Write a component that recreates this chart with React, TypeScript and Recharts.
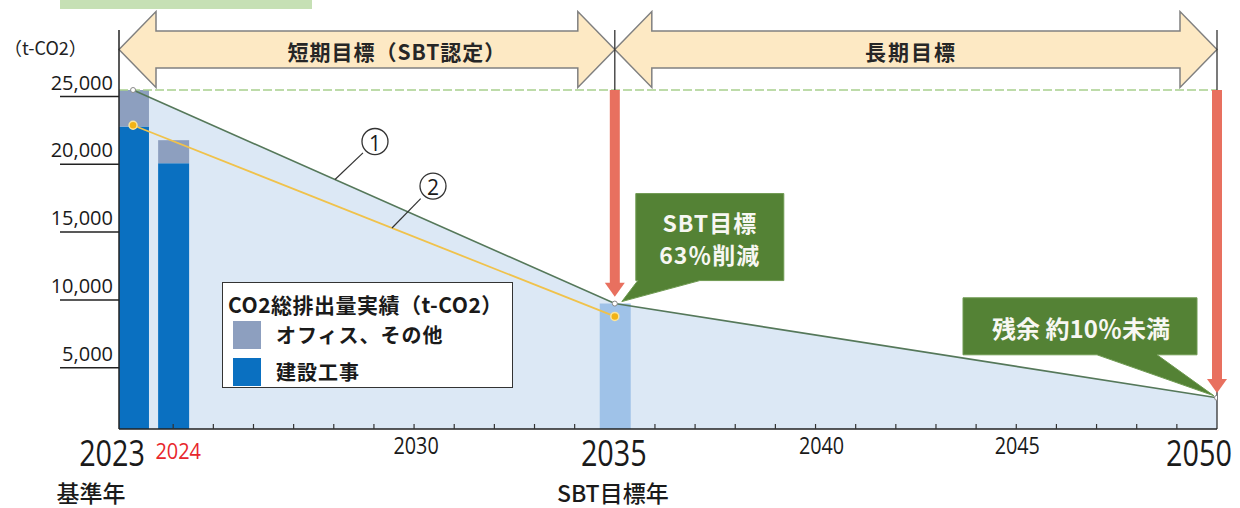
import React from 'react';
import {
  ComposedChart,
  Area,
  Bar,
  Line,
  XAxis,
  YAxis,
  ReferenceLine,
  ReferenceArea,
  ReferenceDot,
  Legend,
} from 'recharts';

// ---------- data ----------
const years = [2023, 2024, 2035, 2050];
const officeOther = [2700, 1700, null, null];
const construction = [22300, 19600, null, null];
const sbtTargetBar = [null, null, 9250, null];
const path1 = [25000, null, 9250, 2300];
const path2 = [22400, null, 8300, null];

const yTicks = [5000, 10000, 15000, 20000, 25000];
const xTicks = [
  2023, 2024, 2025, 2026, 2027, 2028, 2029, 2030, 2031, 2032, 2033, 2034, 2035, 2036,
  2037, 2038, 2039, 2040, 2041, 2042, 2043, 2044, 2045, 2046, 2047, 2048, 2049, 2050,
];
const xTickLabels: Record<number, string> = {
  2023: '2023',
  2024: '2024',
  2030: '2030',
  2035: '2035',
  2040: '2040',
  2045: '2045',
  2050: '2050',
};
const xSubLabels: Record<number, string> = { 2023: '基準年', 2035: 'SBT目標年' };

const legendTitle = 'CO2総排出量実績（t-CO2）';
const shortTermText = '短期目標（SBT認定）';
const longTermText = '長期目標';
const sbtCallout = ['SBT目標', '63％削減'];
const residualCallout = '残余 約10％未満';
const unitLabel = '（t-CO2）';

const data = years.map((year, i) => ({
  year,
  construction: construction[i],
  office: officeOther[i],
  target: sbtTargetBar[i],
  path1: path1[i],
  path2: path2[i],
}));

// ---------- layout constants ----------
const X_MIN = 2022.65;
const X_MAX = 2050;
const Y_MAX = 29425;
const BAND_LOW = 26620;
const BAND_HIGH = 29350;

const JP = '"Noto Sans CJK JP", "Noto Sans", sans-serif';
const LAT = '"Open Sans", "Noto Sans", sans-serif';

// ---------- custom pieces ----------
const YTick = (props: any) => {
  const { x, y, payload } = props;
  return (
    <g>
      <text
        x={x - 6}
        y={y - 8}
        textAnchor="end"
        dominantBaseline="central"
        fontFamily={LAT}
        fontSize={20}
        fill="#1a1a1a"
      >
        {payload.value.toLocaleString('en-US')}
      </text>
      <line x1={60} x2={x} y1={y + 6.5} y2={y + 6.5} stroke="#222" strokeWidth={1.5} />
    </g>
  );
};

const XTick = (props: any) => {
  const { x, y, payload } = props;
  const v = payload.value as number;
  const label = xTickLabels[v];
  const sub = xSubLabels[v];
  const big = v === 2023 || v === 2035 || v === 2050;
  const red = v === 2024;
  const dxMap: Record<number, number> = { 2023: -21, 2024: 5, 2030: 2, 2035: -1, 2040: 6, 2045: 1, 2050: -18 };
  const subDx: Record<number, number> = { 2023: -42, 2035: -2 };
  const showTick = !(v === 2023 || v === 2035 || v === 2050);
  const baseline = big ? y + 37 : red ? y + 30 : y + 25;
  const fs = big ? 36 : red ? 21 : 23;
  const sx = big ? 0.8 : red ? 0.95 : 0.86;
  return (
    <g>
      {showTick && <line x1={x} x2={x} y1={y} y2={y - 5} stroke="#333" strokeWidth={1.2} />}
      {label && (
        <g transform={`translate(${x + (dxMap[v] || 0)},${baseline}) scale(${sx},1)`}>
          <text x={0} y={0} textAnchor="middle" fontFamily={LAT} fontSize={fs} fill={red ? '#e8262c' : '#1a1a1a'}>
            {label}
          </text>
        </g>
      )}
      {sub && (
        <text
          x={x + (subDx[v] || 0)}
          y={y + 73}
          textAnchor="middle"
          fontFamily={JP}
          fontSize={23}
          fontWeight={500}
          fill="#1a1a1a"
        >
          {sub}
        </text>
      )}
    </g>
  );
};

const doubleArrow = (text: string, textDx: number, spacing: number) => (props: any) => {
  const { x, y, width, height } = props;
  const mid = y + height / 2;
  const headLen = 37;
  const headHalf = 38;
  const x0 = x;
  const x1 = x + width;
  const pts = [
    [x0, mid],
    [x0 + headLen, mid - headHalf],
    [x0 + headLen, y],
    [x1 - headLen, y],
    [x1 - headLen, mid - headHalf],
    [x1, mid],
    [x1 - headLen, mid + headHalf],
    [x1 - headLen, y + height],
    [x0 + headLen, y + height],
    [x0 + headLen, mid + headHalf],
  ]
    .map((p) => p.join(','))
    .join(' ');
  return (
    <g>
      <polygon points={pts} fill="#fde9c4" stroke="#808080" strokeWidth={1.5} />
      <text
        x={x + width / 2 + textDx}
        y={mid + 1}
        textAnchor="middle"
        dominantBaseline="central"
        fontFamily={JP}
        fontWeight={700}
        fontSize={21}
        letterSpacing={spacing}
        fill="#262626"
      >
        {text}
      </text>
    </g>
  );
};

const arrowHead = (props: any) => {
  const { cx, cy } = props;
  return <polygon points={`${cx - 10},${cy - 14} ${cx + 10},${cy - 14} ${cx},${cy}`} fill="#e8705f" />;
};

const circleLabel = (text: string, dx: number, dy: number) => (props: any) => {
  const { cx, cy } = props;
  const lx = cx + dx;
  const ly = cy + dy;
  return (
    <g>
      <line x1={cx} y1={cy} x2={lx - dx * 0.3} y2={ly - dy * 0.3} stroke="#333" strokeWidth={1.2} />
      <circle cx={lx} cy={ly} r={13} fill="#fff" stroke="#333" strokeWidth={1.3} />
      <text
        x={lx}
        y={ly + 1}
        textAnchor="middle"
        dominantBaseline="central"
        fontFamily={LAT}
        fontSize={21}
        fill="#1a1a1a"
      >
        {text}
      </text>
    </g>
  );
};

const sbtCalloutShape = (props: any) => {
  const { cx, cy } = props;
  const bx0 = cx + 21;
  const bx1 = cx + 169;
  const by0 = cy - 110;
  const by1 = cy - 23;
  const d = `M${bx0},${by0} L${bx1},${by0} L${bx1},${by1} L${cx + 85},${by1} L${cx + 7},${cy - 2} L${cx + 23},${by1} L${bx0},${by1} Z`;
  return (
    <g>
      <path d={d} fill="#548235" stroke="#6f9a52" strokeWidth={1} />
      <text
        x={cx + 95}
        y={cy - 82}
        textAnchor="middle"
        dominantBaseline="central"
        fontFamily={JP}
        fontWeight={700}
        fontSize={23}
        letterSpacing={1}
        fill="#f7f7f2"
      >
        {sbtCallout[0]}
      </text>
      <text
        x={cx + 95}
        y={cy - 50}
        textAnchor="middle"
        dominantBaseline="central"
        fontFamily={JP}
        fontWeight={700}
        fontSize={23}
        letterSpacing={1}
        fill="#f7f7f2"
      >
        {sbtCallout[1]}
      </text>
    </g>
  );
};

const residualCalloutShape = (props: any) => {
  const { cx, cy } = props;
  const bx0 = cx - 254;
  const bx1 = cx - 20;
  const by0 = cy - 100;
  const by1 = cy - 43;
  const d = `M${bx0},${by0} L${bx1},${by0} L${bx1},${by1} L${cx - 60},${by1} L${cx - 3},${cy - 2} L${cx - 120},${by1} L${bx0},${by1} Z`;
  return (
    <g>
      <path d={d} fill="#548235" stroke="#6f9a52" strokeWidth={1} />
      <text
        x={cx - 136}
        y={cy - 70}
        textAnchor="middle"
        dominantBaseline="central"
        fontFamily={JP}
        fontWeight={700}
        fontSize={24}
        fill="#f7f7f2"
      >
        {residualCallout}
      </text>
    </g>
  );
};

const LegendBox = (props: any) => {
  const payload = (props.payload || []) as any[];
  const order = ['office', 'construction'];
  const items = order
    .map((k) => payload.find((p) => p.dataKey === k))
    .filter(Boolean) as any[];
  return (
    <div
      style={{
        position: 'relative',
        width: 291,
        height: 106,
        boxSizing: 'border-box',
        border: '1.5px solid #333',
        background: '#fff',
        overflow: 'hidden',
        fontFamily: JP,
        color: '#1a1a1a',
      }}
    >
      <div
        style={{
          position: 'absolute',
          left: 5,
          top: 8,
          whiteSpace: 'nowrap',
          fontSize: 21,
          fontWeight: 700,
          lineHeight: '26px',
          letterSpacing: 0.5,
        }}
      >
        {legendTitle}
      </div>
      {items.map((it, i) => (
        <div key={it.dataKey} style={{ position: 'absolute', left: 10, top: 38 + i * 37, display: 'flex', alignItems: 'center' }}>
          <div style={{ width: 28, height: 28, background: it.color }} />
          <div style={{ marginLeft: 15, fontSize: 20, fontWeight: 700, lineHeight: '28px', whiteSpace: 'nowrap', letterSpacing: 1 }}>
            {it.value}
          </div>
        </div>
      ))}
    </div>
  );
};

export default function App() {
  return (
    <div style={{ position: 'absolute', left: 0, top: 0, width: 1240, height: 508, background: '#fff', overflow: 'hidden' }}>
      <div style={{ position: 'absolute', left: 60, top: 0, width: 252, height: 9, background: '#c6e0b5' }} />
      <ComposedChart width={1240} height={508} data={data} margin={{ top: 30, right: 23, bottom: 0, left: 0 }}>
        <XAxis
          dataKey="year"
          type="number"
          domain={[X_MIN, X_MAX]}
          ticks={xTicks}
          interval={0}
          tick={XTick}
          tickLine={false}
          tickSize={0}
          tickMargin={0}
          axisLine={{ stroke: '#222', strokeWidth: 1.5 }}
          height={79}
          allowDataOverflow
        />
        <YAxis
          type="number"
          domain={[0, Y_MAX]}
          ticks={yTicks}
          interval={0}
          tick={YTick}
          tickLine={false}
          tickSize={0}
          tickMargin={0}
          axisLine={{ stroke: '#222', strokeWidth: 1.5 }}
          width={119}
          allowDataOverflow
          label={{
            content: (p: any) => (
              <text x={4} y={(p.viewBox?.y ?? 30) + 25} fontFamily={JP} fontSize={18} fill="#222">
                {unitLabel}
              </text>
            ),
          }}
        />
        <Legend
          layout="horizontal"
          verticalAlign="middle"
          align="center"
          content={LegendBox}
          wrapperStyle={{ position: 'absolute', left: 222, top: 282, width: 291, height: 106 }}
        />

        <Area
          type="linear"
          dataKey="path1"
          stroke="none"
          fill="#dce8f5"
          fillOpacity={1}
          connectNulls
          isAnimationActive={false}
          legendType="none"
          dot={false}
          activeDot={false}
        />
        <Bar dataKey="construction" name="建設工事" stackId="s" fill="#0a70c1" barSize={31} isAnimationActive={false} />
        <Bar dataKey="office" name="オフィス、その他" stackId="s" fill="#8d9fbf" barSize={31} isAnimationActive={false} />
        <Bar dataKey="target" stackId="s" fill="#9fc2e8" barSize={31} isAnimationActive={false} legendType="none" />

        <ReferenceLine y={25000} stroke="#a8cf8d" strokeWidth={1.5} strokeDasharray="9 3" />
        <ReferenceLine x={2050} stroke="#333" strokeWidth={1.3} />
        <ReferenceLine segment={[{ x: 2035, y: 25000 }, { x: 2035, y: Y_MAX }]} stroke="#333" strokeWidth={1.3} />

        <Line
          type="linear"
          dataKey="path1"
          stroke="#55785a"
          strokeWidth={1.6}
          connectNulls
          isAnimationActive={false}
          legendType="none"
          dot={{ r: 2.5, fill: '#fff', stroke: '#888', strokeWidth: 1 }}
          activeDot={false}
        />
        <Line
          type="linear"
          dataKey="path2"
          stroke="#f0c24b"
          strokeWidth={1.8}
          connectNulls
          isAnimationActive={false}
          legendType="none"
          dot={{ r: 4, fill: '#f2b315', stroke: '#fbe49c', strokeWidth: 1.5 }}
          activeDot={false}
        />

        <ReferenceLine segment={[{ x: 2035, y: 25000 }, { x: 2035, y: 10700 }]} stroke="#e8705f" strokeWidth={10} />
        <ReferenceDot x={2035} y={9750} r={1} shape={arrowHead} />
        <ReferenceLine segment={[{ x: 2050, y: 25000 }, { x: 2050, y: 3600 }]} stroke="#e8705f" strokeWidth={10} />
        <ReferenceDot x={2050} y={2650} r={1} shape={arrowHead} />

        <ReferenceArea x1={X_MIN} x2={2035} y1={BAND_LOW} y2={BAND_HIGH} shape={doubleArrow(shortTermText, 30, 1)} />
        <ReferenceArea x1={2035} x2={X_MAX} y1={BAND_LOW} y2={BAND_HIGH} shape={doubleArrow(longTermText, -5, 2)} />

        <ReferenceDot x={2028.03} y={18398} r={1} shape={circleLabel('1', 40, -38)} />
        <ReferenceDot x={2029.45} y={14821} r={1} shape={circleLabel('2', 41, -42)} />

        <ReferenceDot x={2035} y={9250} r={1} shape={sbtCalloutShape} />
        <ReferenceDot x={2050} y={2300} r={1} shape={residualCalloutShape} />
      </ComposedChart>
    </div>
  );
}
